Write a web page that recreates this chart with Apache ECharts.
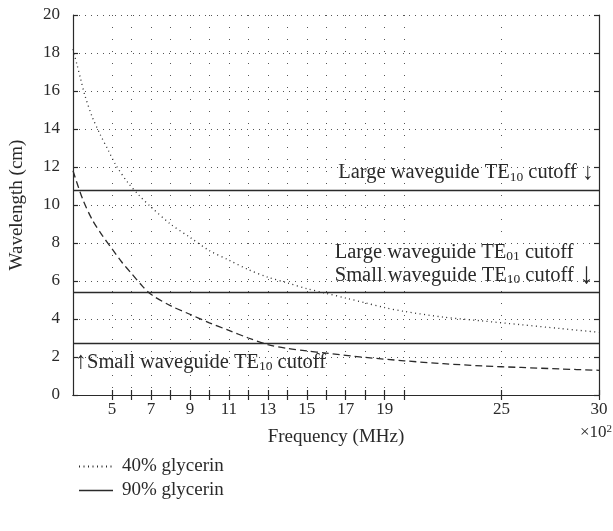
<!DOCTYPE html>
<html>
<head>
<meta charset="utf-8">
<script src="https://cdn.jsdelivr.net/npm/echarts@6/dist/echarts.min.js"></script>
<style>
  html, body { margin: 0; padding: 0; background: #fff; }
  #chart { width: 613px; height: 531px; }
</style>
</head>
<body>
<div id="chart"></div>
<script>
// Frequency axis (units of 10^2 MHz)
const freqTicks = [5, 6, 7, 8, 9, 10, 11, 12, 13, 14, 15, 16, 17, 18, 19, 20, 25, 30];
const freqLabels = [5, 7, 9, 11, 13, 15, 17, 19, 25, 30];

// 40% glycerin: wavelength (cm) vs frequency
const freq40 = [3, 3.2, 3.4, 3.6, 4, 4.4, 4.8, 5.2, 5.8, 6.4, 7, 8, 9, 10, 11, 12, 13, 14, 15, 16, 17, 18, 19, 20, 22, 24, 26, 28, 30];
const wl40   = [18.2, 17.4, 16.6, 15.8, 14.6, 13.7, 12.9, 12.1, 11.2, 10.5, 9.9, 9.0, 8.3, 7.6, 7.1, 6.6, 6.2, 5.9, 5.6, 5.35, 5.1, 4.85, 4.6, 4.4, 4.1, 3.9, 3.7, 3.5, 3.3];

// 90% glycerin: wavelength (cm) vs frequency
const freq90 = [3, 3.5, 4, 4.5, 5, 5.5, 6, 6.5, 7, 8, 9, 10, 11, 12, 13, 14, 15, 16, 18, 20, 22, 24, 26, 28, 30];
const wl90   = [11.8, 10.3, 9.2, 8.4, 7.7, 7.0, 6.4, 5.8, 5.3, 4.7, 4.25, 3.8, 3.4, 3.0, 2.65, 2.45, 2.32, 2.2, 1.98, 1.8, 1.65, 1.53, 1.45, 1.37, 1.3];

// Waveguide cutoff wavelengths (cm)
const cutoffValues = [10.8, 5.4, 2.7];

const FONT = '"Liberation Serif", "DejaVu Serif", serif';
const INK = '#2a2a2a';

const zip = (xs, ys) => xs.map((x, i) => [x, ys[i]]);

// rich text styles shared by the cutoff annotations
const annRich = {
  t:  { fontFamily: FONT, fontSize: 20.5, color: INK, align: 'left', lineHeight: 23 },
  s:  { fontFamily: FONT, fontSize: 13.5, color: INK, align: 'left', verticalAlign: 'bottom', lineHeight: 14 },
  a:  { fontFamily: FONT, fontSize: 24, color: INK, align: 'left', lineHeight: 23 },
  ab: { fontFamily: FONT, fontSize: 30, color: INK, align: 'left', lineHeight: 23 }
};

const cutoffLabels = [
  { pos: 'insideEndTop',      dist: [5, 5.5], text: '{t|Large waveguide TE}{s|10}{t| cutoff }{a|↓}' },
  { pos: 'insideEndTop',      dist: [5, 5.5], text: '{t|Large waveguide TE}{s|01}{t| cutoff}\n{t|Small waveguide TE}{s|10}{t| cutoff }{ab|↓}' },
  { pos: 'insideStartBottom', dist: [2, 7],   text: '{a|↑}{t|Small waveguide TE}{s|10}{t| cutoff}' }
];

const chart = echarts.init(document.getElementById('chart'), null, { renderer: 'canvas' });

const axisLineStyle = { color: INK, width: 1.2 };

chart.setOption({
  animation: false,
  backgroundColor: '#fff',
  grid: { left: 71, right: 14, top: 15, bottom: 136 },
  xAxis: [
    {
      type: 'value', position: 'bottom', min: 3, max: 30,
      name: 'Frequency (MHz)', nameLocation: 'middle', nameGap: 33,
      nameTextStyle: { fontFamily: FONT, fontSize: 19, color: INK },
      axisLine: { show: true, lineStyle: axisLineStyle },
      axisTick: { show: true, inside: true, length: 5, lineStyle: axisLineStyle, customValues: freqTicks },
      axisLabel: { fontFamily: FONT, fontSize: 17, color: INK, margin: 6, customValues: freqLabels },
      splitLine: { show: true, lineStyle: { color: '#555', width: 1, type: [1, 11] } }
    },
    {
      type: 'value', position: 'top', min: 3, max: 30,
      axisLine: { show: true, lineStyle: axisLineStyle },
      axisTick: { show: true, inside: true, length: 5, lineStyle: axisLineStyle, customValues: freqTicks },
      axisLabel: { show: false },
      splitLine: { show: false }
    }
  ],
  yAxis: [
    {
      type: 'value', position: 'left', min: 0, max: 20, interval: 2,
      name: 'Wavelength (cm)', nameLocation: 'middle', nameGap: 46,
      nameTextStyle: { fontFamily: FONT, fontSize: 19, color: INK },
      axisLine: { show: true, lineStyle: axisLineStyle },
      axisTick: { show: true, inside: true, length: 5, lineStyle: axisLineStyle },
      axisLabel: { fontFamily: FONT, fontSize: 17, color: INK, margin: 13 },
      splitLine: { show: true, lineStyle: { color: '#555', width: 1, type: [1, 5] } }
    },
    {
      type: 'value', position: 'right', min: 0, max: 20, interval: 2,
      axisLine: { show: true, lineStyle: axisLineStyle },
      axisTick: { show: true, inside: true, length: 5, lineStyle: axisLineStyle },
      axisLabel: { show: false },
      splitLine: { show: false }
    }
  ],
  legend: {
    orient: 'vertical', left: 73, top: 452,
    itemWidth: 34, itemHeight: 14, itemGap: 5,
    itemStyle: { opacity: 0, borderWidth: 0 },
    textStyle: { fontFamily: FONT, fontSize: 19, color: INK, padding: [0, 0, 0, 4] },
    data: [
      { name: '40% glycerin' },
      { name: '90% glycerin', lineStyle: { type: 'solid', width: 1.3 } }
    ]
  },
  graphic: [
    {
      type: 'text', right: 1, top: 424,
      style: {
        text: '{t|×10}{p|2}',
        rich: {
          t: { fontFamily: FONT, fontSize: 17, fill: INK, color: INK },
          p: { fontFamily: FONT, fontSize: 11, fill: INK, color: INK, verticalAlign: 'top', lineHeight: 11 }
        }
      }
    }
  ],
  series: [
    {
      name: '40% glycerin', type: 'line', data: zip(freq40, wl40),
      xAxisIndex: 0, yAxisIndex: 0,
      symbol: 'none', smooth: 0.3,
      lineStyle: { color: INK, width: 1.3, type: [1, 3.5] },
      itemStyle: { color: INK }
    },
    {
      name: '90% glycerin', type: 'line', data: zip(freq90, wl90),
      xAxisIndex: 0, yAxisIndex: 0,
      symbol: 'none', smooth: 0.3,
      lineStyle: { color: INK, width: 1.3, type: [7, 4] },
      itemStyle: { color: INK }
    },
    {
      name: 'cutoff', type: 'line', data: [],
      xAxisIndex: 0, yAxisIndex: 0,
      markLine: {
        silent: true, symbol: ['none', 'none'], animation: false,
        lineStyle: { color: INK, width: 1.3, type: 'solid' },
        data: cutoffValues.map((v, i) => ({
          yAxis: v,
          label: {
            show: true,
            position: cutoffLabels[i].pos,
            distance: cutoffLabels[i].dist,
            formatter: cutoffLabels[i].text,
            rich: annRich
          }
        }))
      }
    }
  ]
});
</script>
</body>
</html>
